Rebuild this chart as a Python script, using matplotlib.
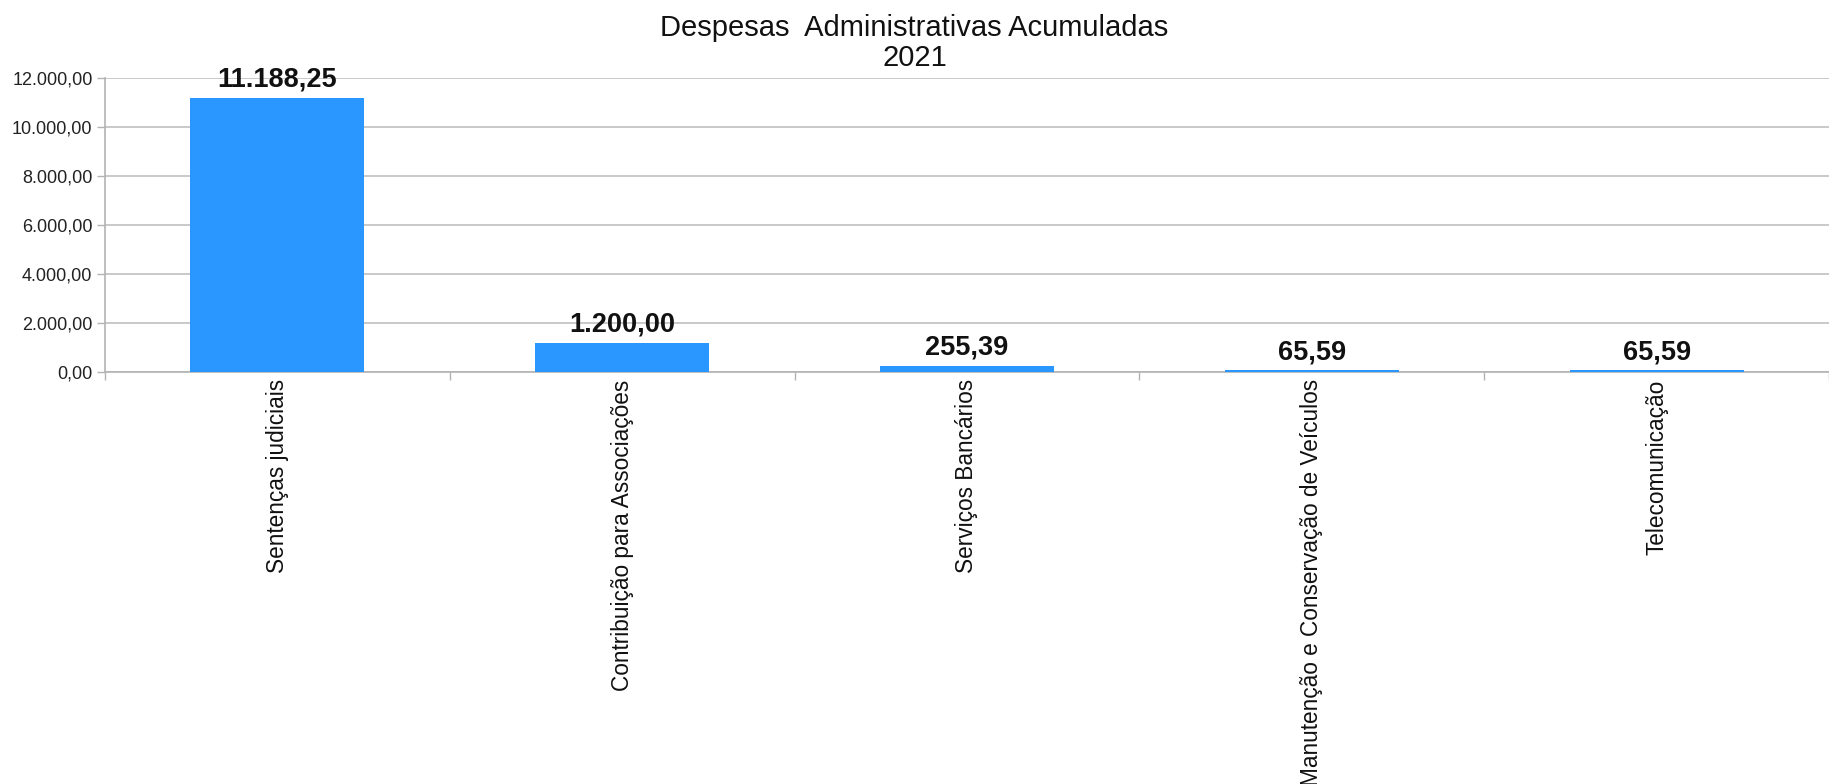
import numpy as np
import matplotlib.pyplot as plt

categorias = ['Sentenças judiciais', 'Contribuição para Associações', 'Serviços Bancários',
              'Manutenção e Conservação de Veículos', 'Telecomunicação']
valores = [11188.25, 1200.00, 255.39, 65.59, 65.59]
yticks = [0, 2000, 4000, 6000, 8000, 10000, 12000]


def fmt_br(v):
    s = '{:,.2f}'.format(v)
    return s.replace(',', 'X').replace('.', ',').replace('X', '.')


plt.rcParams['font.family'] = ['Liberation Sans', 'DejaVu Sans']

fig = plt.figure(figsize=(18.29, 7.84), dpi=100)
ax = fig.add_axes([105 / 1829, 1 - 372 / 784, 1724 / 1829, 294 / 784])

x = np.arange(len(categorias))
ax.bar(x, valores, width=0.505, color='#2997ff', zorder=3)

for xi, v in zip(x, valores):
    ax.text(xi, v + 200, fmt_br(v), ha='center', va='bottom',
            fontsize=19.5, fontweight='bold', color='#111111', zorder=4)

ax.set_xlim(-0.5, len(categorias) - 0.5)
ax.set_ylim(0, 12000)
ax.set_yticks(yticks)
ax.set_yticklabels([fmt_br(v) for v in yticks], fontsize=13, color='#222222')
ax.yaxis.grid(True, color='#c0c0c0', linewidth=1.2, zorder=0)

ax.set_xticks(np.arange(-0.5, len(categorias), 1.0))
ax.set_xticklabels([])
ax.tick_params(axis='x', length=6, color='#b3b3b3', width=1)
ax.tick_params(axis='y', length=6, color='#b3b3b3', width=1, pad=3)

for xi, c in zip(x, categorias):
    ax.text(xi, -300, c, rotation=90, ha='center', va='top', fontsize=16.3,
            color='#111111')

for s in ['top', 'right']:
    ax.spines[s].set_visible(False)
ax.spines['left'].set_color('#b3b3b3')
ax.spines['bottom'].set_color('#b3b3b3')
ax.spines['left'].set_linewidth(1.2)
ax.spines['bottom'].set_linewidth(1.2)
ax.set_axisbelow(True)

fig.text(0.5, 1 - 14 / 784, 'Despesas  Administrativas Acumuladas\n2021', ha='center',
         va='top', fontsize=21, color='#111111', linespacing=1.08)

fig.savefig('out.png', dpi=100)
